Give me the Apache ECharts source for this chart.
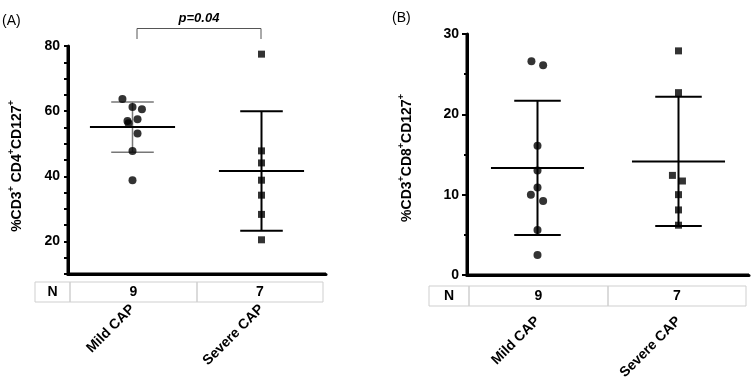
<!DOCTYPE html>
<html>
<head>
<meta charset="utf-8">
<script src="https://cdn.jsdelivr.net/npm/echarts@6/dist/echarts.min.js"></script>
<style>
  html, body { margin: 0; padding: 0; background: #fff; }
  #main { width: 751px; height: 387px; }
</style>
</head>
<body>
<div id="main"></div>
<script>
  // groups on the x axis
  const categories = ['Mild CAP', 'Severe CAP'];
  const nCounts = ['9', '7'];

  // (A) %CD3+ CD4+ CD127+
  const cd4Mild = [63.7, 61.3, 60.6, 57.5, 57.0, 56.3, 53.1, 47.8, 38.8];
  const cd4MildJitter = [-0.078, 0, 0.073, 0.039, -0.039, -0.031, 0.039, 0, 0];
  const cd4Severe = [77.5, 47.8, 44.1, 38.8, 34.2, 28.3, 20.5];
  const cd4SevereJitter = [0, 0, 0, 0, 0, 0, 0];
  const cd4Ticks = [20, 40, 60, 80];

  // (B) %CD3+ CD8+ CD127+
  const cd8Mild = [26.6, 26.1, 16.1, 13.0, 10.9, 10.0, 9.2, 5.6, 2.5];
  const cd8MildJitter = [-0.043, 0.040, 0, 0, 0, -0.047, 0.040, 0, 0];
  const cd8Severe = [27.9, 22.7, 12.4, 11.7, 10.0, 8.1, 6.2];
  const cd8SevereJitter = [0, 0, -0.043, 0.028, 0, 0, 0];

  const pValueLabel = 'p=0.04';

  const FONT = 'Liberation Sans, Arial, sans-serif';

  function meanSd(arr) {
    const m = arr.reduce((a, b) => a + b, 0) / arr.length;
    const v = arr.reduce((a, b) => a + (b - m) * (b - m), 0) / (arr.length - 1);
    return [m, Math.sqrt(v)];
  }

  // group positions on the hidden value axis are 1 and 2
  function points(vals, jit, g) {
    return vals.map((v, i) => [g + 1 + jit[i], v]);
  }

  // mean line + SD whiskers
  function renderBars(params, api) {
    const x = api.value(0), m = api.value(1), sd = api.value(2);
    const c = api.coord([x, m]);
    const hi = api.coord([x, m + sd]);
    const lo = api.coord([x, m - sd]);
    const half = api.size([0.33, 0])[0];
    const cap = api.size([0.165, 0])[0];
    const col = api.visual('color');
    const w = col === '#000' ? 2 : 1.5;
    return {
      type: 'group',
      children: [
        {type: 'line', shape: {x1: c[0], y1: hi[1], x2: c[0], y2: lo[1]}, style: {stroke: col, lineWidth: w}},
        {type: 'line', shape: {x1: c[0] - cap, y1: hi[1], x2: c[0] + cap, y2: hi[1]}, style: {stroke: col, lineWidth: w}},
        {type: 'line', shape: {x1: c[0] - cap, y1: lo[1], x2: c[0] + cap, y2: lo[1]}, style: {stroke: col, lineWidth: w}},
        {type: 'line', shape: {x1: c[0] - half, y1: c[1], x2: c[0] + half, y2: c[1]}, style: {stroke: '#000', lineWidth: 2}}
      ]
    };
  }

  // left + bottom axis frame, taken from the grid rectangle
  function renderFrame(params, api) {
    const r = params.coordSys;
    return {
      type: 'polyline',
      shape: {points: [[r.x, r.y], [r.x, r.y + r.height], [r.x + r.width, r.y + r.height]]},
      style: {stroke: '#000', lineWidth: 3, fill: null}
    };
  }

  function catAxis(grid, margin) {
    return {
      type: 'category', gridIndex: grid, data: categories, boundaryGap: true,
      axisLine: {show: true, lineStyle: {color: '#000', width: 3}},
      axisTick: {alignWithLabel: true, length: 5, lineStyle: {color: '#000', width: 2}},
      axisLabel: {rotate: 45, margin: margin, interval: 0, color: '#000', fontWeight: 'bold', fontSize: 14},
      splitLine: {show: false}
    };
  }

  function valX(grid) {
    return {type: 'value', gridIndex: grid, min: 0.5, max: 2.5, show: false};
  }

  function yTitle(x, y, marker) {
    return {
      type: 'text', x: x, y: y, rotation: Math.PI / 2,
      style: {
        text: marker,
        align: 'center', verticalAlign: 'middle',
        fill: '#000',
        rich: {
          a: {fontSize: 14, fontWeight: 'bold', fontFamily: FONT, fill: '#000'},
          s: {fontSize: 9, fontWeight: 'bold', fontFamily: FONT, fill: '#000', padding: [0, 0, 10, 0]}
        }
      }
    };
  }

  function table(x0, xN, xMid, x1, y0, y1) {
    const st = {fill: null, stroke: '#cfcfcf', lineWidth: 1};
    const tx = (x, t) => ({
      type: 'text', x: x, y: (y0 + y1) / 2,
      style: {text: t, align: 'center', verticalAlign: 'middle', font: 'bold 14px ' + FONT, fill: '#000'}
    });
    return [
      {type: 'rect', shape: {x: x0, y: y0, width: xN - x0, height: y1 - y0}, style: st},
      {type: 'rect', shape: {x: xN, y: y0, width: xMid - xN, height: y1 - y0}, style: st},
      {type: 'rect', shape: {x: xMid, y: y0, width: x1 - xMid, height: y1 - y0}, style: st},
      tx((x0 + xN) / 2, 'N'),
      tx((xN + xMid) / 2, nCounts[0]),
      tx((xMid + x1) / 2, nCounts[1])
    ];
  }

  const sdA = [meanSd(cd4Mild), meanSd(cd4Severe)];
  const sdB = [meanSd(cd8Mild), meanSd(cd8Severe)];

  const chart = echarts.init(document.getElementById('main'));
  chart.setOption({
    animation: false,
    textStyle: {fontFamily: FONT},
    grid: [
      {left: 68, top: 46, width: 258, height: 228},
      {left: 467, top: 34, width: 282, height: 241}
    ],
    xAxis: [catAxis(0, 33), valX(0), catAxis(1, 44), valX(1)],
    yAxis: [
      {
        // ticks every 5, labels every 20
        type: 'value', gridIndex: 0, min: 10, max: 80, interval: 5,
        axisLine: {show: true, lineStyle: {color: '#000', width: 3}},
        axisTick: {show: true, length: 4, lineStyle: {color: '#000', width: 2}},
        axisLabel: {customValues: cd4Ticks, color: '#000', fontWeight: 'bold', fontSize: 14, margin: 8},
        splitLine: {show: false}
      },
      {
        type: 'value', gridIndex: 1, min: 0, max: 30, interval: 10,
        axisLine: {show: true, lineStyle: {color: '#000', width: 3}},
        axisTick: {show: true, length: 5, lineStyle: {color: '#000', width: 2}},
        minorTick: {show: true, splitNumber: 2, length: 3, lineStyle: {color: '#000', width: 2}},
        axisLabel: {color: '#000', fontWeight: 'bold', fontSize: 14, margin: 8},
        splitLine: {show: false}
      }
    ],
    series: [
      {type: 'custom', xAxisIndex: 1, yAxisIndex: 0, renderItem: renderFrame, clip: false, silent: true, z: 1, data: [[1, 50]]},
      {type: 'custom', xAxisIndex: 3, yAxisIndex: 1, renderItem: renderFrame, clip: false, silent: true, z: 1, data: [[1, 10]]},
      {type: 'custom', xAxisIndex: 1, yAxisIndex: 0, renderItem: renderBars, z: 2,
        data: [
          {value: [1, sdA[0][0], sdA[0][1]], itemStyle: {color: '#777'}},
          {value: [2, sdA[1][0], sdA[1][1]], itemStyle: {color: '#000'}}
        ]},
      {type: 'scatter', xAxisIndex: 1, yAxisIndex: 0, symbol: 'circle', symbolSize: 8, z: 3,
        itemStyle: {color: '#000'}, data: points(cd4Mild, cd4MildJitter, 0)},
      {type: 'scatter', xAxisIndex: 1, yAxisIndex: 0, symbol: 'rect', symbolSize: 7, z: 3,
        itemStyle: {color: '#000'}, data: points(cd4Severe, cd4SevereJitter, 1)},
      {type: 'custom', xAxisIndex: 3, yAxisIndex: 1, renderItem: renderBars, z: 2,
        data: [
          {value: [1, sdB[0][0], sdB[0][1]], itemStyle: {color: '#000'}},
          {value: [2, sdB[1][0], sdB[1][1]], itemStyle: {color: '#000'}}
        ]},
      {type: 'scatter', xAxisIndex: 3, yAxisIndex: 1, symbol: 'circle', symbolSize: 8, z: 3,
        itemStyle: {color: '#000'}, data: points(cd8Mild, cd8MildJitter, 0)},
      {type: 'scatter', xAxisIndex: 3, yAxisIndex: 1, symbol: 'rect', symbolSize: 7, z: 3,
        itemStyle: {color: '#000'}, data: points(cd8Severe, cd8SevereJitter, 1)}
    ],
    graphic: [].concat(
      [
        {type: 'text', x: 2, y: 21, style: {text: '(A)', font: '14px ' + FONT, fill: '#000', verticalAlign: 'middle'}},
        {type: 'text', x: 392, y: 18, style: {text: '(B)', font: '14px ' + FONT, fill: '#000', verticalAlign: 'middle'}},
        {type: 'polyline', shape: {points: [[137, 39], [137, 28.5], [261, 28.5], [261, 39]]},
          style: {stroke: '#555', lineWidth: 1, fill: null}},
        {type: 'text', x: 199, y: 18, style: {text: pValueLabel, font: 'italic bold 13px ' + FONT, fill: '#000',
          align: 'center', verticalAlign: 'middle'}},
        yTitle(17, 166, '{a|%CD3}{s|+}{a| CD4}{s|+}{a|CD127}{s|+}'),
        yTitle(407, 158, '{a|%CD3}{s|+}{a|CD8}{s|+}{a|CD127}{s|+}')
      ],
      table(35, 70, 197, 323, 282, 302),
      table(429, 469, 608, 746, 286, 306)
    )
  });
</script>
</body>
</html>
